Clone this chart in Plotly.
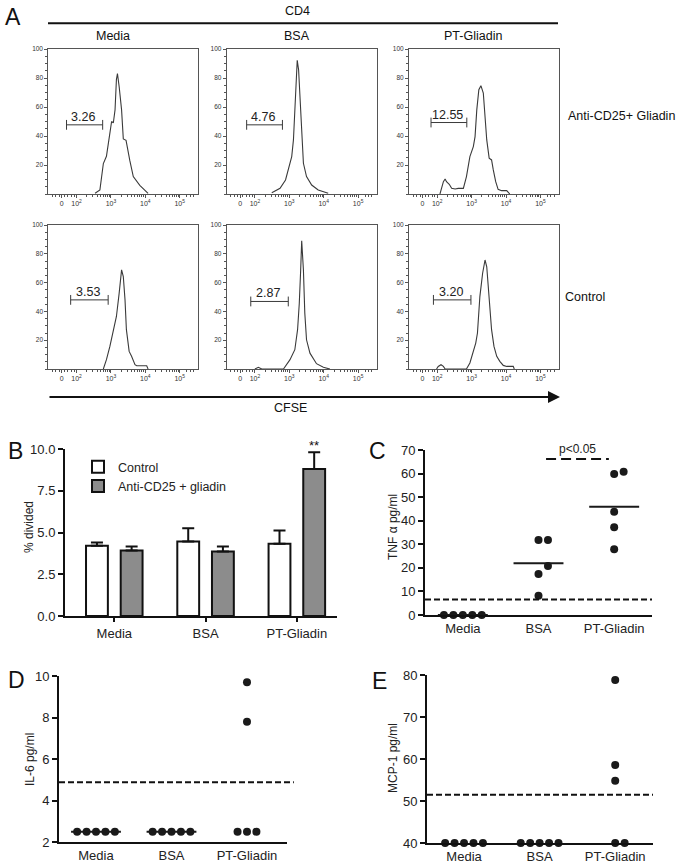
import numpy as np
import plotly.graph_objects as go

W, H = 678, 868
FONT = "Liberation Sans, Arial, Helvetica, sans-serif"

# ---------------- Panel A: CFSE histograms (x in log10 display units, y in % of max) ----------------
hist_conditions = ["Media", "BSA", "PT-Gliadin"]
hist_rows = ["Anti-CD25+ Gliadin", "Control"]
cfse_tick_vals = [1.57, 2, 3, 4, 5]
cfse_tick_text = ["0", "10<sup>2</sup>", "10<sup>3</sup>", "10<sup>4</sup>", "10<sup>5</sup>"]
count_tick_vals = [20, 40, 60, 80, 100]

hist_media_anti_x = [2.54, 2.68, 2.78, 2.87, 2.97, 3.02, 3.07, 3.12, 3.16, 3.19, 3.24, 3.31, 3.36, 3.44, 3.55, 3.65, 3.84, 4.04, 4.08]
hist_media_anti_y = [0.5, 2.8, 21, 26, 42, 50, 49, 58, 79, 83, 74, 58, 38, 37, 23, 12, 6, 1.6, 0.5]

hist_bsa_anti_x = [2.49, 2.73, 2.89, 2.99, 3.07, 3.12, 3.16, 3.20, 3.23, 3.27, 3.31, 3.36, 3.41, 3.50, 3.65, 3.84, 4.13]
hist_bsa_anti_y = [0.9, 3.9, 9.7, 17.7, 25.8, 37.3, 58, 81, 92.2, 85.7, 65, 37.3, 21.2, 12, 6.2, 2.8, 0.5]

hist_pt_anti_x = [2.08, 2.13, 2.18, 2.23, 2.27, 2.35, 2.42, 2.52, 2.61, 2.76, 2.85, 2.95, 3.05, 3.10, 3.15,
                  3.21, 3.27, 3.34, 3.39, 3.44, 3.51, 3.58, 3.63, 3.70, 3.77, 3.87, 4.02, 4.09, 4.11]
hist_pt_anti_y = [0, 5.1, 8.5, 10.4, 8.5, 6.7, 3.9, 3.5, 3.9, 3.9, 12, 25.8, 32.7, 39.6, 58,
                  71.9, 74.7, 69.6, 53.5, 37.3, 24.7, 23.5, 16.6, 8.5, 3.2, 2.3, 2.3, 0.9, 0]

hist_media_ctrl_x = [2.78, 2.87, 2.97, 3.07, 3.16, 3.24, 3.31, 3.36, 3.41, 3.45, 3.53, 3.60, 3.70, 3.75, 4.04, 4.08]
hist_media_ctrl_y = [0, 6.5, 15.7, 27.3, 36.5, 52.7, 68.8, 64.2, 48, 27.3, 12.2, 8.8, 3, 2.3, 2.3, 0]

hist_bsa_ctrl_x = [2.00, 2.10, 2.20, 2.83, 3.02, 3.16, 3.24, 3.29, 3.33, 3.36, 3.41, 3.45, 3.50, 3.60, 3.79, 3.99, 4.18]
hist_bsa_ctrl_y = [0, 1.2, 0, 0, 6.5, 13.4, 27.3, 45.7, 68.8, 89, 68.8, 38.8, 20.3, 11, 3.7, 1.2, 0]

hist_pt_ctrl_x = [1.98, 2.03, 2.11, 2.18, 2.23, 2.85, 2.95, 3.05, 3.12, 3.17, 3.24, 3.32, 3.39, 3.44, 3.51,
                  3.58, 3.65, 3.73, 3.82, 3.92, 4.02, 4.21, 4.24]
hist_pt_ctrl_y = [0, 1.8, 3, 1.8, 0, 0, 4.2, 12.2, 18, 25, 50.3, 66.5, 75.7, 71, 50.3,
                  27.3, 15.7, 8.8, 5.3, 2.5, 1.8, 1.8, 0]

gate_lo = [1.71, 1.76, 1.82, 1.83, 1.88, 1.89]
gate_hi = [2.76, 2.80, 2.86, 2.92, 2.97, 2.98]
gate_y = [47.7, 47.7, 49.3, 48.0, 46.9, 48.0]
gate_pct = ["3.26", "4.76", "12.55", "3.53", "2.87", "3.20"]

# ---------------- Panel B ----------------
b_groups = ["Media", "BSA", "PT-Gliadin"]
b_control = [4.2, 4.46, 4.32]
b_control_err = [0.2, 0.8, 0.8]
b_anti = [3.92, 3.86, 8.8]
b_anti_err = [0.24, 0.3, 1.0]
b_y_ticks = [0, 2.5, 5, 7.5, 10]

# ---------------- Panels C, D, E ----------------
groups = ["Media", "BSA", "PT-Gliadin"]
c_media = [0, 0, 0, 0, 0]
c_bsa = [31.8, 31.8, 17.4, 8.2, 20.8]
c_pt = [59.8, 60.8, 43.8, 37.2, 27.9]
c_threshold = 6.6
c_sig_pair = (1, 2)
c_sig_y = 66.2
c_sig_text = "p<0.05"

d_media = [2.5, 2.5, 2.5, 2.5, 2.5]
d_bsa = [2.5, 2.5, 2.5, 2.5, 2.5]
d_pt = [9.7, 7.8, 2.5, 2.5, 2.5]
d_threshold = 4.88

e_media = [40, 40, 40, 40, 40]
e_bsa = [40, 40, 40, 40, 40]
e_pt = [78.8, 58.6, 54.8, 40, 40]
e_threshold = 51.5

# ---------------- helpers ----------------
def xdom(a, b):
    return [a / W, b / W]

def ydom(top, bot):
    return [1 - bot / H, 1 - top / H]

def ax(n):
    return ("x" if n == 1 else f"x{n}"), ("y" if n == 1 else f"y{n}")

def swarm(values, px_per_unit, dot_px=9.0):
    placed, slots = [], []
    for v in values:
        for s in [0, 1, -1, 2, -2, 3, -3]:
            if all(not (ps == s and abs(pv - v) * px_per_unit < dot_px) for pv, ps in placed):
                break
        placed.append((v, s))
        slots.append(s)
    return slots

fig = go.Figure()
layout = {}
annotations = []
shapes = []
INK = "#3a3a3a"

def paper_text(px, py, text, size=12.5, xanchor="center", angle=0, color="#111"):
    annotations.append(dict(x=px / W, y=1 - py / H, xref="paper", yref="paper", text=text, showarrow=False,
                            xanchor=xanchor, yanchor="middle", textangle=angle,
                            font=dict(size=size, family=FONT, color=color)))

# ---------------- Panel A drawing ----------------
box_x = [(48.3, 198.3), (226.7, 376.7), (409, 559)]
row_y = [(49, 194), (225, 369)]
hist_data = [
    [(hist_media_anti_x, hist_media_anti_y), (hist_bsa_anti_x, hist_bsa_anti_y), (hist_pt_anti_x, hist_pt_anti_y)],
    [(hist_media_ctrl_x, hist_media_ctrl_y), (hist_bsa_ctrl_x, hist_bsa_ctrl_y), (hist_pt_ctrl_x, hist_pt_ctrl_y)],
]
minor_x = [float(np.log10(k * 10 ** p)) for p in (2, 3, 4) for k in range(2, 10)] + [1.3, 1.4, 1.5, 1.65, 1.75, 1.85, 1.93, 5.2, 5.3, 5.4]

for r in range(2):
    for c in range(3):
        n = r * 3 + c + 1
        k = n - 1
        xa, ya = ax(n)
        hx, hy = hist_data[r][c]
        fig.add_trace(go.Scatter(x=hx, y=hy, mode="lines", line=dict(color=INK, width=1.1),
                                 xaxis=xa, yaxis=ya, showlegend=False, hoverinfo="skip"))
        fig.add_trace(go.Scatter(x=[gate_lo[k], gate_hi[k]], y=[gate_y[k], gate_y[k]], mode="lines+markers",
                                 line=dict(color=INK, width=1),
                                 marker=dict(symbol="line-ns", size=7, line=dict(width=1, color=INK)),
                                 xaxis=xa, yaxis=ya, showlegend=False, hoverinfo="skip"))
        annotations.append(dict(x=(gate_lo[k] + gate_hi[k]) / 2 - 0.04, y=gate_y[k], xref=xa, yref=ya,
                                text=gate_pct[k], showarrow=False, xanchor="center", yanchor="bottom", yshift=-1,
                                font=dict(size=12.5, color="#222", family=FONT)))
        key = "" if n == 1 else str(n)
        layout["xaxis" + key] = dict(domain=xdom(*box_x[c]), anchor=ya, range=[1.18, 5.54], automargin=False,
                                     showline=True, mirror=True, linecolor="#555", linewidth=1,
                                     showgrid=False, zeroline=False, ticks="outside", ticklen=3, tickcolor="#555",
                                     tickvals=cfse_tick_vals, ticktext=cfse_tick_text,
                                     tickfont=dict(size=7, color="#333", family=FONT),
                                     minor=dict(tickvals=minor_x, ticks="outside", ticklen=2, tickcolor="#555"))
        layout["yaxis" + key] = dict(domain=ydom(*row_y[r]), anchor=xa, range=[0, 100], automargin=False,
                                     showline=True, mirror=True, linecolor="#555", linewidth=1,
                                     showgrid=False, zeroline=False, ticks="outside", ticklen=3, tickcolor="#555",
                                     tickvals=count_tick_vals,
                                     tickfont=dict(size=6.5, color="#333", family=FONT),
                                     minor=dict(dtick=5, ticks="outside", ticklen=2, tickcolor="#555"))

# Panel A decorations
title_x = [113, 297, 473]
for c, name in enumerate(hist_conditions):
    paper_text(title_x[c], 36, name)
paper_text(297, 11, "CD4")
shapes.append(dict(type="line", xref="paper", yref="paper", x0=48 / W, x1=558 / W, y0=1 - 23.3 / H, y1=1 - 23.3 / H,
                   line=dict(color="#111", width=2)))
paper_text(566, 116, hist_rows[0], xanchor="left")
paper_text(563, 297, hist_rows[1], xanchor="left")
paper_text(290, 408, "CFSE")
annotations.append(dict(x=560 / W, y=1 - 397 / H, xref="paper", yref="paper", text="", showarrow=True,
                        ax=-512, ay=0, arrowhead=2, arrowsize=1.2, arrowwidth=2, arrowcolor="#111"))

# ---------------- Panel B ----------------
bx = [0, 1, 2]
fig.add_trace(go.Bar(x=bx, y=b_control, name="Control", marker=dict(color="white", line=dict(color="#111", width=2)),
                     error_y=dict(type="data", array=b_control_err, arrayminus=[0] * 3, symmetric=False,
                                  color="#111", thickness=2, width=6),
                     xaxis="x7", yaxis="y7"))
fig.add_trace(go.Bar(x=bx, y=b_anti, name="Anti-CD25 + gliadin", marker=dict(color="#8c8c8c", line=dict(color="#111", width=2)),
                     error_y=dict(type="data", array=b_anti_err, arrayminus=[0] * 3, symmetric=False,
                                  color="#111", thickness=2, width=6),
                     xaxis="x7", yaxis="y7"))
layout["xaxis7"] = dict(domain=xdom(65, 337), anchor="y7", range=[-0.54, 2.44], tickvals=bx, ticktext=b_groups,
                        automargin=False,
                        showline=True, linecolor="#111", linewidth=2, ticks="outside", ticklen=4, tickwidth=2,
                        tickcolor="#111", showgrid=False, zeroline=False,
                        tickfont=dict(size=13, family=FONT, color="#222"))
layout["yaxis7"] = dict(domain=ydom(449, 616), anchor="x7", range=[0, 10], tickvals=b_y_ticks, tickformat=".1f",
                        automargin=False,
                        showline=True, linecolor="#111", linewidth=2, ticks="outside", ticklen=5, tickwidth=2,
                        tickcolor="#111", showgrid=False, zeroline=False,
                        tickfont=dict(size=13, family=FONT, color="#222"))
annotations.append(dict(x=2 + 0.19, y=b_anti[2] + b_anti_err[2], xref="x7", yref="y7", text="**", showarrow=False,
                        xanchor="center", yanchor="bottom", yshift=-3, font=dict(size=13, family=FONT, color="#111")))
paper_text(29, 527, "% divided", size=12, angle=-90, color="#222")

# ---------------- Scatter panels helper ----------------
def dot_panel(n, data, px_per_unit, mean_groups):
    xa, ya = ax(n)
    for gi, vals in enumerate(data):
        slots = swarm(vals, px_per_unit)
        fig.add_trace(go.Scatter(x=[gi + 0.125 * s for s in slots], y=vals, mode="markers",
                                 marker=dict(size=8, color="#1a1a1a"), cliponaxis=False,
                                 xaxis=xa, yaxis=ya, showlegend=False, hoverinfo="skip"))
        if gi in mean_groups:
            m = float(np.mean(vals))
            fig.add_trace(go.Scatter(x=[gi - 0.33, gi + 0.33], y=[m, m], mode="lines", cliponaxis=False,
                                     line=dict(color="#1a1a1a", width=2),
                                     xaxis=xa, yaxis=ya, showlegend=False, hoverinfo="skip"))

def dot_axes(n, xpx, ypx, xr, yr, dtick):
    xa, ya = ax(n)
    layout[f"xaxis{n}"] = dict(domain=xdom(*xpx), anchor=ya, range=xr, tickvals=[0, 1, 2], ticktext=groups,
                               automargin=False,
                               showline=True, linecolor="#111", linewidth=2, ticks="", showgrid=False,
                               zeroline=False, tickfont=dict(size=13, family=FONT, color="#222"))
    layout[f"yaxis{n}"] = dict(domain=ydom(*ypx), anchor=xa, range=yr, dtick=dtick, automargin=False,
                               showline=True, linecolor="#111", linewidth=2, ticks="outside", ticklen=5,
                               tickwidth=2, tickcolor="#111", showgrid=False, zeroline=False,
                               tickfont=dict(size=13, family=FONT, color="#222"))

def threshold(n, yv, x1=1.0):
    xa, ya = ax(n)
    shapes.append(dict(type="line", xref=f"{xa} domain", yref=ya, x0=0, x1=x1, y0=yv, y1=yv,
                       line=dict(color="#111", width=2, dash="6px,3px")))

# Panel C
dot_panel(8, [c_media, c_bsa, c_pt], 165 / 70, [0, 1, 2])
dot_axes(8, (425, 652), (450, 615), [-0.5, 2.5], [0, 70], 10)
threshold(8, c_threshold)
a, b = c_sig_pair
fig.add_trace(go.Scatter(x=[a + 0.1, b - 0.07], y=[c_sig_y, c_sig_y], mode="lines",
                         line=dict(color="#111", width=2, dash="10px,5px"), cliponaxis=False,
                         xaxis="x8", yaxis="y8", showlegend=False, hoverinfo="skip"))
annotations.append(dict(x=(a + b) / 2 + 0.02, y=c_sig_y, xref="x8", yref="y8", text=c_sig_text, showarrow=False,
                        xanchor="center", yanchor="bottom", yshift=1, font=dict(size=12, family=FONT, color="#222")))
paper_text(393, 527, "TNF α pg/ml", size=12, angle=-90, color="#222")

# Panel D
dot_panel(9, [d_media, d_bsa, d_pt], 166 / 8, [0, 1])
dot_axes(9, (59, 287), (676, 842), [-0.49, 2.53], [2, 10], 2)
threshold(9, d_threshold, 1.03)
paper_text(30, 760, "IL-6 pg/ml", size=12, angle=-90, color="#222")

# Panel E
dot_panel(10, [e_media, e_bsa, e_pt], 168 / 40, [])
dot_axes(10, (427, 653), (675, 843), [-0.49, 2.5], [40, 80], 10)
threshold(10, e_threshold)
paper_text(393, 758, "MCP-1 pg/ml", size=12, angle=-90, color="#222")

# Panel letters
for letter, (px, py) in {"A": (13, 17), "B": (15, 451), "C": (377, 451), "D": (16, 680), "E": (379, 681)}.items():
    paper_text(px, py, letter, size=23)

fig.update_layout(
    width=W, height=H, margin=dict(l=0, r=0, t=0, b=0, autoexpand=False),
    paper_bgcolor="white", plot_bgcolor="white",
    barmode="group", bargap=0.24, bargroupgap=0.37,
    font=dict(family=FONT, color="#222"),
    legend=dict(x=78 / W, y=1 - 452 / H, xanchor="left", yanchor="top", bgcolor="rgba(0,0,0,0)",
                font=dict(size=12.5, family=FONT, color="#222"), tracegroupgap=0, itemclick=False),
    annotations=annotations, shapes=shapes,
    **layout,
)

fig.write_html("out.html", config={"displayModeBar": False},
               post_script="document.body.style.margin='0';document.body.style.padding='0';"
                           "document.documentElement.style.overflow='hidden';")
